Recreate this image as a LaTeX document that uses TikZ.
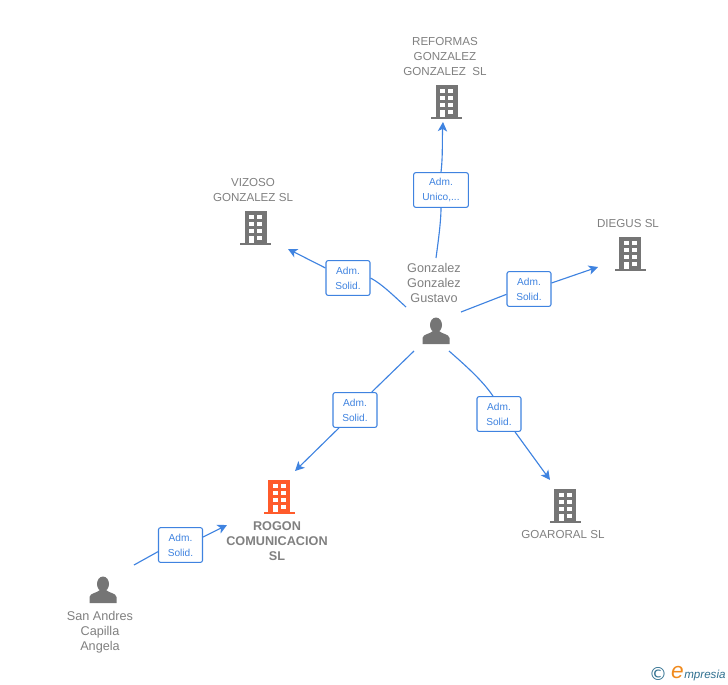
\documentclass[tikz,border=0pt]{standalone}
\usepackage{fontspec}
\usetikzlibrary{arrows.meta}
\setmainfont{Liberation Sans}
\newfontfamily\logofont{DejaVu Sans}
\definecolor{linkblue}{HTML}{3F83E0}
\definecolor{icongrey}{HTML}{757575}
\definecolor{textgrey}{HTML}{808080}
\definecolor{roofred}{HTML}{FF5B2B}
\definecolor{logoblue}{HTML}{2F6F8F}
\definecolor{logoorange}{HTML}{F08A1D}
\tikzset{
  link/.style={linkblue,line width=0.85pt},
  arrowlink/.style={link,-{Stealth[length=7pt,width=7pt,inset=1.8pt]}},
  rolebox/.style={draw=linkblue,fill=white,rounded corners=1.5pt,line width=0.8pt,text=linkblue,
    font=\fontsize{7.6}{11.2}\selectfont,align=center,minimum width=33pt,minimum height=26pt,inner sep=0pt},
  caption/.style={text=textgrey,font=\fontsize{8.7}{11.25}\selectfont,align=center,inner sep=0pt},
  personname/.style={caption,font=\fontsize{9.5}{11.25}\selectfont},
  building/.pic={
    \fill[pic actions] (-11,-17) rectangle (11,15);
    \fill[pic actions] (-15.5,15) rectangle (15.5,17);
    \foreach \row in {-13,-6,1} {
      \fill[white] (-6.5,\row) rectangle (-1.5,\row+4);
      \fill[white] (1.5,\row) rectangle (6.5,\row+4);
    }
    \fill[white] (-6.5,8) rectangle (-1.5,15);
    \fill[white] (1.5,8) rectangle (6.5,12);
  },
  person/.pic={
    \fill[icongrey] (0,-6) ellipse (6 and 7.5);
    \fill[icongrey] (-13.5,13) -- (-13.5,7) .. controls (-13,3) and (-6,3) .. (-3,0)
      -- (3,0) .. controls (6,3) and (13,3) .. (13.5,7) -- (13.5,13) -- cycle;
  }
}
\begin{document}
\begin{tikzpicture}[x=0.75pt,y=-0.75pt]
\useasboundingbox (0,0) rectangle (728,685);

% companies
\pic[fill=icongrey] at (446.5,102) {building};
\pic[fill=icongrey] at (255.5,228) {building};
\pic[fill=icongrey] at (630,254) {building};
\pic[fill=icongrey] at (565,506) {building};
\pic[fill=roofred] at (279,497) {building};
% people
\pic at (436,331) {person};
\pic at (103,590) {person};

\node[caption] (reformas) at (445,57) {REFORMAS\\GONZALEZ\\GONZALEZ\ \ SL};
\node[caption] (vizoso) at (253,190) {VIZOSO\\GONZALEZ SL};
\node[caption] (diegus) at (628,224) {DIEGUS SL};
\node[caption] (goaroral) at (563,534.5) {GOARORAL SL};
\node[caption,font=\fontsize{9.5}{11.25}\selectfont\bfseries] (rogon) at (277,541) {ROGON\\COMUNICACION\\SL};
\node[personname] (gustavo) at (434,283) {Gonzalez\\Gonzalez\\Gustavo};
\node[personname] (angela) at (100,632) {San Andres\\Capilla\\Angela};

\node[rolebox,minimum width=41pt] (boxreformas) at (441,190) {Adm.\\Unico,...};
\node[rolebox] (boxvizoso) at (348,278) {Adm.\\Solid.};
\node[rolebox] (boxdiegus) at (529,289) {Adm.\\Solid.};
\node[rolebox] (boxgoaroral) at (499,414) {Adm.\\Solid.};
\node[rolebox] (boxrogon) at (355,410) {Adm.\\Solid.};
\node[rolebox] (boxangela) at (180.5,545) {Adm.\\Solid.};

\coordinate (s1) at (436,258);
\coordinate (e1) at (443,122);
\coordinate (s2) at (406,307);
\coordinate (e2) at (288,249);
\coordinate (s3) at (461,312);
\coordinate (e3) at (598,267);
\coordinate (s4) at (449,351);
\coordinate (e4) at (550,480);
\coordinate (s5) at (414,351);
\coordinate (e5) at (295,471);
\coordinate (s6) at (134,565);
\coordinate (e6) at (227,525);

\draw[link] (s1) .. controls (438,243) and (441,222) .. (boxreformas.south);
\draw[arrowlink] (boxreformas.north) .. controls (443,155) and (442,140) .. (e1);
\draw[link] (s2) .. controls (395,297) and (382,284) .. (boxvizoso.east);
\draw[arrowlink] ([yshift=7.5pt]boxvizoso.west) -- (e2);
\draw[link] (s3) -- ([yshift=-4pt]boxdiegus.west);
\draw[arrowlink] ([yshift=4.5pt]boxdiegus.east) -- (e3);
\draw[link] (s4) .. controls (465,365) and (483,381) .. ([xshift=-4.5pt]boxgoaroral.north);
\draw[arrowlink] ([xshift=12pt]boxgoaroral.south) -- (e4);
\draw[link] (s5) -- ([xshift=12.5pt]boxrogon.north);
\draw[arrowlink] ([xshift=-12pt]boxrogon.south) -- (e5);
\draw[link] (s6) -- ([yshift=-5pt]boxangela.west);
\draw[arrowlink] ([yshift=6pt]boxangela.east) -- (e6);

\node[inner sep=0pt,text=logoblue,font=\logofont\fontsize{13.5}{13.5}\selectfont] (copyright) at (658,674) {©};
\node[inner sep=0pt,text=logoblue,anchor=base west,font=\fontsize{8.7}{10}\selectfont\itshape] (logo) at (684,678)
  {mpresia};
\node[inner sep=0pt,text=logoorange,anchor=base east,font=\fontsize{17}{17}\selectfont\itshape] (logoe) at (logo.base west) {e};
\end{tikzpicture}
\end{document}
